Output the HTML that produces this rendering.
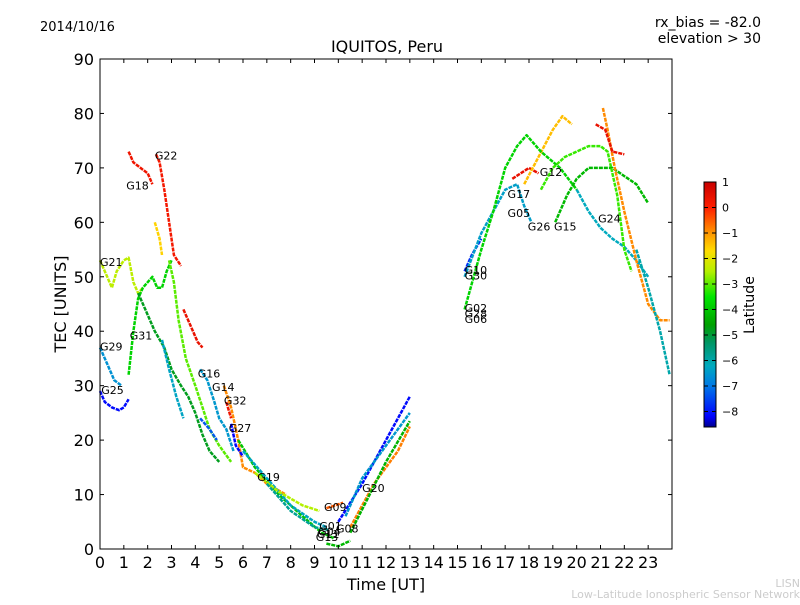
<!DOCTYPE html>
<html><head><meta charset="utf-8"><style>
body{margin:0;background:#fff;width:800px;height:600px;overflow:hidden;font-family:"Liberation Sans",sans-serif}
svg text{font-family:"DejaVu Sans","Liberation Sans",sans-serif}
</style></head><body>
<svg id="c" width="800" height="600">
<defs><linearGradient id="jet" x1="0" y1="1" x2="0" y2="0"></linearGradient></defs>
<text x="40" y="31" font-size="13">2014/10/16</text>
<text x="761" y="27" font-size="14" text-anchor="end">rx_bias = -82.0</text>
<text x="761" y="43" font-size="14" text-anchor="end">elevation &gt; 30</text>
<text x="387" y="52" font-size="16" text-anchor="middle">IQUITOS, Peru</text>
<text x="386" y="590" font-size="16" text-anchor="middle">Time [UT]</text>
<text transform="translate(66,304) rotate(-90)" font-size="16" text-anchor="middle">TEC [UNITS]</text>
<g id="marks"></g>
<g id="axes"></g>
<rect x="704" y="182" width="12" height="245" fill="url(#jet)" stroke="#000" stroke-width="1"/>
<g id="cbticks"></g>
<text transform="translate(754,305) rotate(-90)" font-size="14" text-anchor="middle">Latitude</text>
<text x="800" y="587" font-size="11" fill="#ccc" text-anchor="end">LISN</text>
<text x="800" y="598" font-size="11" fill="#ccc" text-anchor="end">Low-Latitude Ionospheric Sensor Network</text>
</svg>
<script>
const xTicks=[0,1,2,3,4,5,6,7,8,9,10,11,12,13,14,15,16,17,18,19,20,21,22,23];
const yTicks=[0,10,20,30,40,50,60,70,80,90];
const cbTicks=[1,0,-1,-2,-3,-4,-5,-6,-7,-8];
const trackNames=["G22a","G22b","G18a","G18b","G21","G31g","dg1","lg1","G29","G25","G31","G16a","G16b","G14","G32","G27","E","F","G19","H","MIN","A","B","C","D","G09","G10","G26","G12","Y1","GP","T1","G15","G2","OR","RD","TL"];
const trackTimes=[
[2.35,2.5,2.7,2.9,3.1,3.4],[3.5,3.8,4.1,4.3],[1.2,1.4,1.7,2.0,2.2],[2.3,2.5,2.6],
[0,0.3,0.5,0.7,1.0,1.2,1.4,1.6,1.8],[1.2,1.4,1.6,1.8,2.0,2.2,2.4,2.6,2.8,3.0],
[1.6,1.9,2.3,2.7,3.0,3.4,3.7,4.0,4.3,4.6,5.0],[2.9,3.1,3.3,3.6,4.0,4.3,4.6,5.0,5.5],
[0,0.3,0.6,0.9],[0,0.2,0.5,0.8,1.0,1.2],[2.6,2.9,3.2,3.5],[4.2,4.5,4.8,5.0,5.3,5.6],[4.2,4.6,4.9],
[5.2,5.5,5.8,6.0,6.5,7.0,7.8],[5.3,5.5],[5.5,5.7,6.0],
[5.8,6.5,7.5,8.5,9.3,9.8],[6.0,7.0,8.0,9.0,9.5],[6.5,7.5,8.5,9.2],[7.0,8.0,9.0,9.6],[9.5,10.0,10.5],
[10.0,11.0,12.0,13.0],[10.3,11.0,12.0,13.0],[10.5,11.5,12.5,13.0],[10.5,11.2,12.0,13.0],[9.5,10.2],
[15.3,15.6,16.0],[15.3,16.0,16.5,17.0,17.5,17.8,18.1],[17.3,18.0,18.4],[17.8,18.4,19.0,19.4,19.8],
[15.3,16.0,16.5,17.0,17.5,17.9,18.5,19.3,20.0],[20.0,20.5,21.0,21.5,22.0,22.5,23.0],
[19.1,19.6,20.0,20.5,21.0,21.5,22.0,22.5,23.0],[18.5,19.0,19.5,20.0,20.5,21.0,21.3,21.7,22.0,22.3],
[21.1,21.3,21.6,22.0,22.5,23.0,23.5,23.9],[20.8,21.2,21.5,22.0],[22.5,23.0,23.5,23.9]];
const trackTec=[
[72.5,71,66,60,54,52],[44,41,38,37],[73,71,70,69,67],[60,57,54],
[53,50,48,51,53,53.5,49,47,48],[32,40,46,48,49,50,48,48,51,53],
[47,44,40,37,33,30,28,25,21,18,16],[53,49,42,35,30,26,22,19,16],
[37,34,31,30],[29,27,26,25.5,26,27.5],[38.4,33,28,24],[33,31,27,24,22,18],[24,22,20],
[30,26,20,15,14,12,10],[27,24],[23,19,17],
[20,15,10,6,3,2],[18,13,8,5,4],[14,10.5,8,7],[12,7,4,3.5],[1,0.5,1.5],
[5,12,20,28],[6,13,19,25],[4,12,18,22.5],[3,9,16,23.5],[7.5,8.5],
[51,54,57],[50,58,62,66,67,63,60],[68,70,69],[67,72,77,79.5,78],
[44,55,62,70,74,76,73,70,66],[66,62,59,57,55.5,53,50],
[60,65,68,70,70,70,68.5,67,63.5],[66,70,72,73,74,74,73,65,55,51],
[81,77,70,62,53,45,42,42],[78,77,73,72.5],[55,48,40,32]];
const trackLat=[0.2,0.4,0.3,-1.6,-2.4,-3.8,-4.8,-3.0,-6.6,-8.1,-6.3,-6.5,-7.3,-0.9,0.3,-8.2,
-4.0,-6.3,-2.5,-5.8,-4.2,-8.1,-6.5,-0.8,-4.3,-0.5,-7.8,-6.4,0.4,-1.4,-3.8,-6.2,-4.2,-3.2,-0.9,0.4,-6.0];
const labelNames=["G22","G18","G21","G29","G31","G25","G16","G14","G32","G27","G19","G09","G01","G04","G11","G13","G08","G20","G10","G30","G02","G28","G06","G17","G05","G26","G15","G12","G24"];
const labelT=[2.3,1.1,0,0,1.25,0.05,4.1,4.7,5.2,5.4,6.6,9.4,9.2,9.15,9.1,9.05,9.9,11.0,15.3,15.3,15.3,15.3,15.3,17.1,17.1,17.95,19.05,18.45,20.9];
const labelV=[71.5,66,52,36.5,38.5,28.5,31.5,29,26.5,21.5,12.5,7,3.5,2.5,2,1.5,3,10.5,50.5,49.5,43.5,42.5,41.5,64.5,61,58.5,58.5,68.5,60];

const NS='http://www.w3.org/2000/svg';
const X=t=>100+t*(572/24), Y=v=>549-v*(490/90);
const cmap=[[-8.6,[0,0,140]],[-8.2,[0,0,255]],[-7.0,[0,120,230]],[-6.2,[0,170,190]],[-5.3,[0,150,100]],[-4.6,[0,160,0]],[-3.5,[0,230,0]],[-2.5,[180,240,0]],[-1.7,[255,220,0]],[-1.0,[255,150,0]],[0,[255,30,0]],[1.0,[200,0,0]]];
function jet(l){l=Math.max(-8.6,Math.min(1,l));
 for(let i=0;i<cmap.length-1;i++){const [a,ca]=cmap[i],[b,cb]=cmap[i+1];
  if(l<=b){const f=(l-a)/(b-a);return 'rgb('+ca.map((c,k)=>Math.round(c+(cb[k]-c)*f)).join(',')+')';}}
 return 'rgb(200,0,0)';}
function el(tag,a,p){const e=document.createElementNS(NS,tag);for(const k in a)e.setAttribute(k,a[k]);p.appendChild(e);return e;}
const G=document.getElementById('jet');
cmap.forEach(([v,c])=>el('stop',{offset:((v+8.6)/9.6).toFixed(3),'stop-color':'rgb('+c.join(',')+')'},G));
const M=document.getElementById('marks'),A=document.getElementById('axes'),CB=document.getElementById('cbticks');
trackTimes.forEach((ts,i)=>{
 const pts=ts.map((t,j)=>X(t).toFixed(1)+','+Y(trackTec[i][j]).toFixed(1)).join(' ');
 const p=el('polyline',{points:pts,fill:'none',stroke:jet(trackLat[i]),'stroke-width':2.5,'stroke-linejoin':'round','stroke-dasharray':'4 1'},M);
 
 
});
labelNames.forEach((n,i)=>{
 const t=el('text',{x:X(labelT[i]),y:Y(labelV[i]),'font-size':11},M);t.textContent=n;
 
 
});
const fr=el('rect',{x:100,y:59,width:572,height:490,fill:'none',stroke:'#000','stroke-width':1},A);


xTicks.forEach(t=>{const x=X(t);
 el('line',{x1:x,x2:x,y1:549,y2:545,stroke:'#000'},A);el('line',{x1:x,x2:x,y1:59,y2:63,stroke:'#000'},A);
 const tx=el('text',{x:x,y:568,'font-size':16,'text-anchor':'middle'},A);tx.textContent=t;
 
 });
yTicks.forEach(v=>{const y=Y(v);
 el('line',{x1:100,x2:104,y1:y,y2:y,stroke:'#000'},A);el('line',{x1:672,x2:668,y1:y,y2:y,stroke:'#000'},A);
 const tx=el('text',{x:94,y:y+6,'font-size':16,'text-anchor':'end'},A);tx.textContent=v;
 
 });
cbTicks.forEach(v=>{const y=182+(1-v)*25.5;
 el('line',{x1:716,x2:712,y1:y,y2:y,stroke:'#000'},CB);el('line',{x1:704,x2:708,y1:y,y2:y,stroke:'#000'},CB);
 const tx=el('text',{x:722,y:y+4,'font-size':11},CB);tx.textContent=v<0?'\u2212'+(-v):v;
 
 });
</script>
</body></html>
